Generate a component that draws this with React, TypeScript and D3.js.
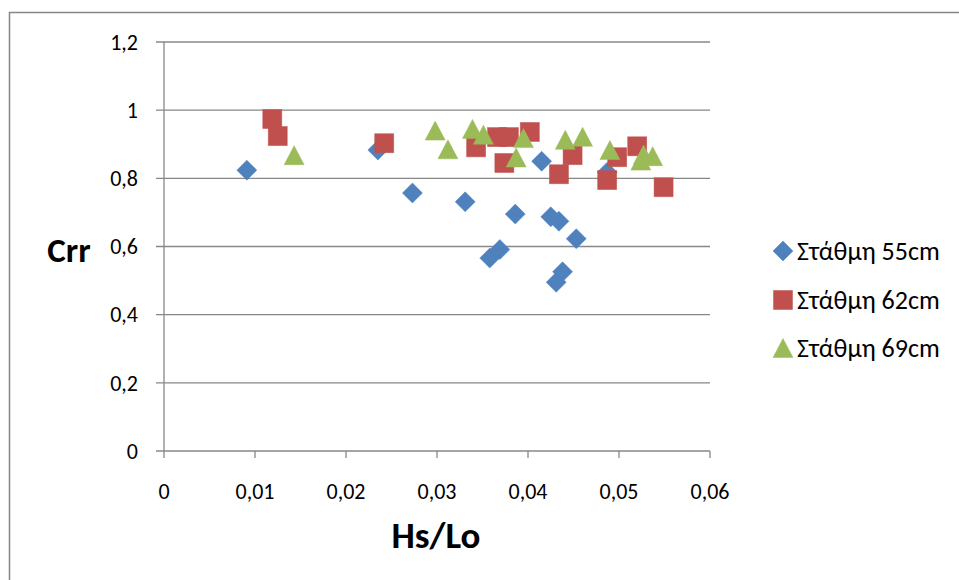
import React from "react";
import * as d3 from "d3";

const xTicks = [0, 0.01, 0.02, 0.03, 0.04, 0.05, 0.06];
const yTicks = [0, 0.2, 0.4, 0.6, 0.8, 1.0, 1.2];

const s55x = [0.0091, 0.0235, 0.0273, 0.0331, 0.0358, 0.0369, 0.0386, 0.0415, 0.0425, 0.0434, 0.0431, 0.0438, 0.0453, 0.0487];
const s55y = [0.824, 0.883, 0.757, 0.731, 0.566, 0.591, 0.695, 0.850, 0.687, 0.674, 0.495, 0.526, 0.623, 0.818];

const s62x = [0.0119, 0.0125, 0.0242, 0.0343, 0.0366, 0.0379, 0.0402, 0.0374, 0.0434, 0.0449, 0.0487, 0.0498, 0.0520, 0.0549];
const s62y = [0.974, 0.924, 0.903, 0.891, 0.921, 0.921, 0.936, 0.845, 0.812, 0.868, 0.795, 0.862, 0.894, 0.774];

const s69x = [0.0143, 0.0298, 0.0312, 0.0339, 0.0351, 0.0395, 0.0387, 0.0441, 0.0460, 0.0490, 0.0524, 0.0527, 0.0537];
const s69y = [0.868, 0.940, 0.885, 0.945, 0.928, 0.918, 0.861, 0.913, 0.922, 0.883, 0.852, 0.870, 0.865];

const seriesNames = ["Στάθμη 55cm", "Στάθμη 62cm", "Στάθμη 69cm"];
const colors = ["#4F81BD", "#C0504D", "#9BBB59"];

const font = "Carlito, Calibri, 'Open Sans', 'Noto Sans', sans-serif";

function Marker({ kind, x, y, color }: { kind: number; x: number; y: number; color: string }) {
  if (kind === 0) {
    const r = 10;
    return <path d={`M${x},${y - r}L${x + r},${y}L${x},${y + r}L${x - r},${y}Z`} fill={color} stroke={color} strokeOpacity={0.6} strokeWidth={0.8} />;
  }
  if (kind === 1) {
    const h = 9.5;
    return <rect x={x - h} y={y - h} width={2 * h} height={2 * h} fill={color} stroke={color} strokeOpacity={0.6} strokeWidth={0.8} />;
  }
  const w = 10, h = 9.5;
  return <path d={`M${x},${y - h}L${x + w},${y + h}L${x - w},${y + h}Z`} fill={color} stroke={color} strokeOpacity={0.6} strokeWidth={0.8} />;
}

export default function App() {
  const x = d3.scaleLinear().domain([0, 0.06]).range([164, 710]);
  const y = d3.scaleLinear().domain([0, 1.2]).range([451, 42]);
  const fmt = (v: number) => (v === 0 ? "0" : String(+v.toFixed(2)).replace(".", ","));
  const series = [
    { xs: s55x, ys: s55y },
    { xs: s62x, ys: s62y },
    { xs: s69x, ys: s69y },
  ];
  const legendY = [251, 300, 348];
  return (
    <svg width={959} height={580} style={{ position: "absolute", left: 0, top: 0, background: "#fff" }}>
      <rect x={0} y={0} width={959} height={580} fill="#fff" />
      <path d="M9.5,590V12.5H970" fill="none" stroke="#868686" strokeWidth={1.5} />
      {yTicks.map((t) => (
        <g key={"y" + t}>
          <line x1={156} x2={710} y1={y(t)} y2={y(t)} stroke="#878787" strokeWidth={1.3} />
          <text x={138} y={y(t)} dy="0.35em" textAnchor="end" fontFamily={font} fontSize={22} fill="#000">
            {fmt(t)}
          </text>
        </g>
      ))}
      <line x1={164} x2={164} y1={42} y2={451} stroke="#878787" strokeWidth={1.3} />
      {xTicks.map((t) => (
        <g key={"x" + t}>
          <line x1={x(t)} x2={x(t)} y1={451} y2={458} stroke="#878787" strokeWidth={1.3} />
          <text x={x(t)} y={491} dy="0.35em" textAnchor="middle" fontFamily={font} fontSize={22} fill="#000">
            {fmt(t)}
          </text>
        </g>
      ))}
      {series.map((s, si) =>
        s.xs.map((xv, i) => <Marker key={si + "-" + i} kind={si} x={x(xv)} y={y(s.ys[i])} color={colors[si]} />)
      )}
      <text x={69} y={250} dy="0.35em" textAnchor="middle" fontFamily={font} fontSize={35} fontWeight="bold" fill="#000">
        Crr
      </text>
      <text x={436} y={535} dy="0.35em" textAnchor="middle" fontFamily={font} fontSize={37} fontWeight="bold" fill="#000">
        Hs/Lo
      </text>
      {seriesNames.map((n, i) => (
        <g key={n}>
          <Marker kind={i} x={783} y={legendY[i]} color={colors[i]} />
          <text x={797} y={legendY[i]} dy="0.35em" fontFamily={font} fontSize={26} fill="#000">
            {n}
          </text>
        </g>
      ))}
    </svg>
  );
}
